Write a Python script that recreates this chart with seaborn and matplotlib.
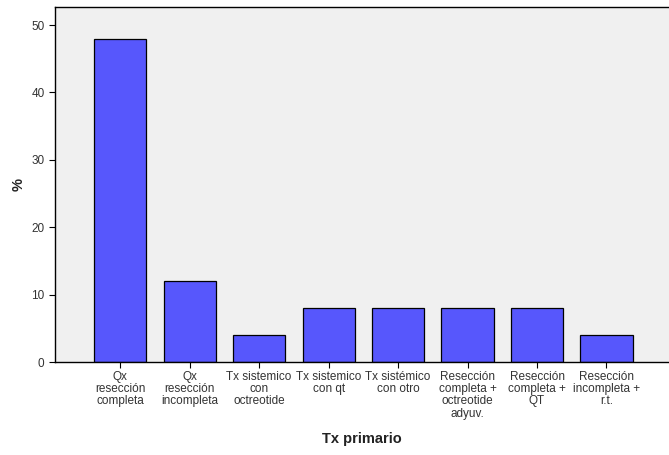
import pandas as pd
import matplotlib.pyplot as plt
import seaborn as sns

# Data
categories = ['Qx\nresección\ncompleta', 'Qx\nresección\nincompleta',
              'Tx sistemico\ncon\noctreotide', 'Tx sistemico\ncon qt',
              'Tx sistémico\ncon otro', 'Resección\ncompleta +\noctreotide\nadyuv.',
              'Resección\ncompleta +\nQT', 'Resección\nincompleta +\nr.t.']
percent = [48, 12, 4, 8, 8, 8, 8, 4]
y_ticks = [0, 10, 20, 30, 40, 50]

df = pd.DataFrame({'tx': categories, 'pct': percent})

sns.set_style('white')
plt.rcParams['font.family'] = ['Liberation Sans', 'DejaVu Sans']

fig = plt.figure(figsize=(6.69, 4.55), dpi=100)
ax = fig.add_axes([0.082, 0.204, 0.918, 0.781])
ax.set_facecolor('#f0f0f0')

sns.barplot(data=df, x='tx', y='pct', color='#5757fc', saturation=1,
            edgecolor='black', linewidth=0.9, width=0.75, ax=ax)

ax.set_xlim(-0.94, 7.9)
ax.set_ylim(0, 52.7)
ax.set_yticks(y_ticks)
ax.tick_params(axis='both', direction='out', length=4, width=0.8,
               labelsize=8.5, colors='black', labelcolor='#333333',
               left=True, bottom=True)
ax.tick_params(axis='x', pad=2)
for lab in ax.get_xticklabels():
    lab.set_linespacing(1.05)

for side in ['left', 'bottom', 'top']:
    ax.spines[side].set_color('black')
    ax.spines[side].set_linewidth(1.0)
ax.spines['right'].set_visible(False)

ax.set_xlabel('Tx primario', fontsize=10.5, fontweight='bold', labelpad=9,
              color='#222222')
ax.set_ylabel('%', fontsize=10.5, fontweight='bold', labelpad=4,
              color='#222222')

plt.savefig('out.png', dpi=100)
